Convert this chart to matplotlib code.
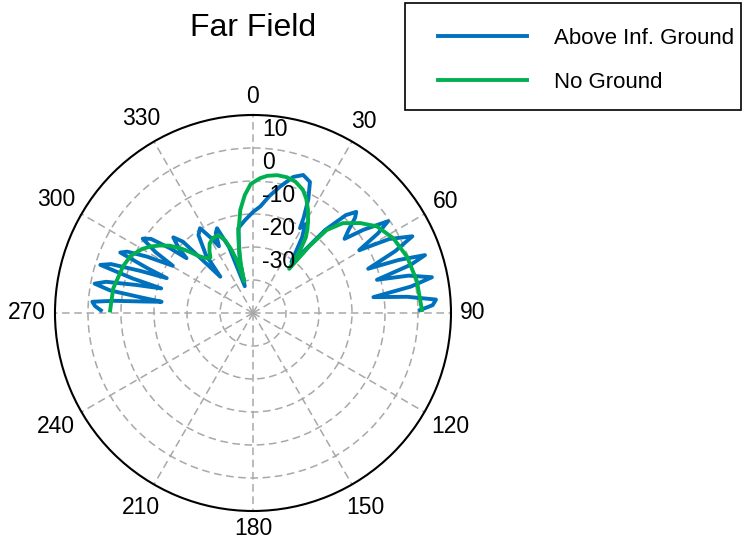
import numpy as np
import matplotlib.pyplot as plt
from matplotlib.patches import Rectangle
from matplotlib.transforms import offset_copy

plt.rcParams['font.family'] = ['Liberation Sans', 'DejaVu Sans']

# Far field patterns (angle from zenith in deg, gain in dB)
ground_theta = [-89, -87.5, -86, -85, -84, -83, -82, -81, -79.5, -78, -76.5, -75,
                -74, -72.5, -71, -69.5, -68, -67, -65.5, -64, -62, -59.5, -58, -56,
                -54, -52, -50.5, -49, -46.5, -44.5, -42, -39, -35, -32, -29, -27,
                -25, -23, -20, -17, -14, -11, -9.8, -5, 0, 4, 8, 12, 16.5, 20,
                23.5, 26, 28, 29, 30.5, 33, 37, 39, 41, 43.5, 45.6, 47, 49, 51,
                53, 55.8, 57.5, 59.4, 61.5, 64.3, 66.5, 69, 70, 71.4, 73, 75,
                76.5, 78.7, 80.5, 82.5, 84, 85.8, 87.5, 89]
ground_gain = [-3.9, -2.1, -1.2, -7.6, -16.7, -22.1, -15.2, -6.1, -1.2, -4.5, -13.6, -21.2,
               -12.1, -1.5, -4.5, -13.6, -21.8, -15.2, -5.8, -7.6, -13.6, -21.8, -15.2, -9.7,
               -11.8, -18.2, -23.9, -20.3, -16.7, -19.7, -35.2, -27.3, -21.2, -19.7, -24.2, -27.3,
               -23.3, -22.1, -28.8, -41.5, -33.3, -27.3, -23.9, -21.8, -19.4, -17.6, -14.2, -10.9, -7.0, -5.5,
               -6.7, -11.8, -17.3, -20.6, -18.8, -22.7, -30.6, -27.3, -16.7, -9.1, -6.2, -7.7, -11.6, -14.3,
               -8.1, -0.5, -5.1, -12.6, -3.0, 3.6, -3.0, -12.6, -3.0, 5.0, 0.0, -11.1,
               -1.5, 5.3, -1.5, -13.2, -3.0, 5.6, 4.5, 0.6]

free_theta = [-89, -80, -70, -65, -60, -57, -54, -51, -48, -46, -44, -42, -39.5, -37.5,
              -35, -32, -28, -24, -21, -19, -17, -15.5, -14, -12, -10, -7, -4, -1,
              3, 6, 10, 14, 18, 22, 25, 28, 31, 33, 35, 37, 38.5, 39.3, 40.2, 41.6,
              45, 50, 55, 62, 70, 79, 89]
free_gain = [-6.7, -7.0, -8.2, -9.1, -11.2, -13.0, -15.2, -17.6, -20.9, -23.3, -25.8, -27.3, -28.5, -28.8,
             -27.0, -25.2, -24.2, -24.2, -26.4, -29.4, -33.3, -40.0, -34.8, -29.4, -24.8, -18.5, -14.2, -10.9,
             -9.1, -8.2, -7.6, -7.6, -8.2, -9.7, -11.8, -14.5, -17.6, -19.7, -22.1, -26.4, -30.6, -32.7, -23.3, -16.4,
             -11.5, -7.6, -4.2, -1.8, -0.3, 0.6, 1.2]

r_ticks = [-40, -30, -20, -10, 0]
r_labels = ['-30', '-20', '-10', '0', '10']
theta_ticks = list(range(0, 360, 30))

R_MIN, R_MAX = -50, 10
R_PX = 198.0  # outer circle radius in pixels

fig = plt.figure(figsize=(7.42, 5.46), dpi=100)
ax = fig.add_axes([0.0741, 0.0641, 0.5337, 0.7253], projection='polar')
ax.set_theta_zero_location('N')
ax.set_theta_direction(-1)

ax.plot(np.deg2rad(ground_theta), ground_gain, color='#0072BD', lw=2.8,
        label='Above Inf. Ground')
ax.plot(np.deg2rad(free_theta), free_gain, color='#00B050', lw=2.8,
        label='No Ground')

ax.set_ylim(R_MIN, R_MAX)
ax.set_rgrids(r_ticks, labels=[''] * len(r_ticks))
ax.set_thetagrids(theta_ticks, labels=[''] * len(theta_ticks))
ax.grid(True, color='#a8a8a8', linestyle=(0, (5, 3)), linewidth=1.1)
ax.spines['polar'].set_linewidth(1.5)

# angle labels: box kept a fixed gap outside the circle (matlab style)
for t in theta_ticks:
    txt = str(t)
    w, h = 12.5 * len(txt), 18.0
    a = np.deg2rad(t)
    ext = 0.5 * w * abs(np.sin(a)) + 0.5 * h * abs(np.cos(a))
    r_lab = R_MIN + (R_PX + 9 + ext) * (R_MAX - R_MIN) / R_PX
    ax.text(a, r_lab, txt, ha='center', va='center', fontsize=16.5, clip_on=False)

# radial labels just right of the 0 deg spoke
lab_tr = offset_copy(ax.transData, fig=fig, x=9, y=-15, units='dots')
for val, txt in zip([-30, -20, -10, 0, 10], r_labels):
    ax.text(0, val, txt, transform=lab_tr, ha='left', va='center', fontsize=16.5)

fig.text(253 / 742, 1 - 28 / 546, 'Far Field', ha='center', va='center', fontsize=23)

ax.legend(loc='upper left', bbox_to_anchor=(438 / 742, 1 - 28 / 546),
          bbox_transform=fig.transFigure, frameon=False, borderpad=0,
          borderaxespad=0, handlelength=4.0, handletextpad=1.2,
          labelspacing=1.02, fontsize=16)
fig.add_artist(Rectangle((405 / 742, 1 - 110 / 546), 336 / 742, 107 / 546,
                         transform=fig.transFigure, fill=False,
                         edgecolor='black', lw=1.2))

fig.savefig('out.png', dpi=100)
